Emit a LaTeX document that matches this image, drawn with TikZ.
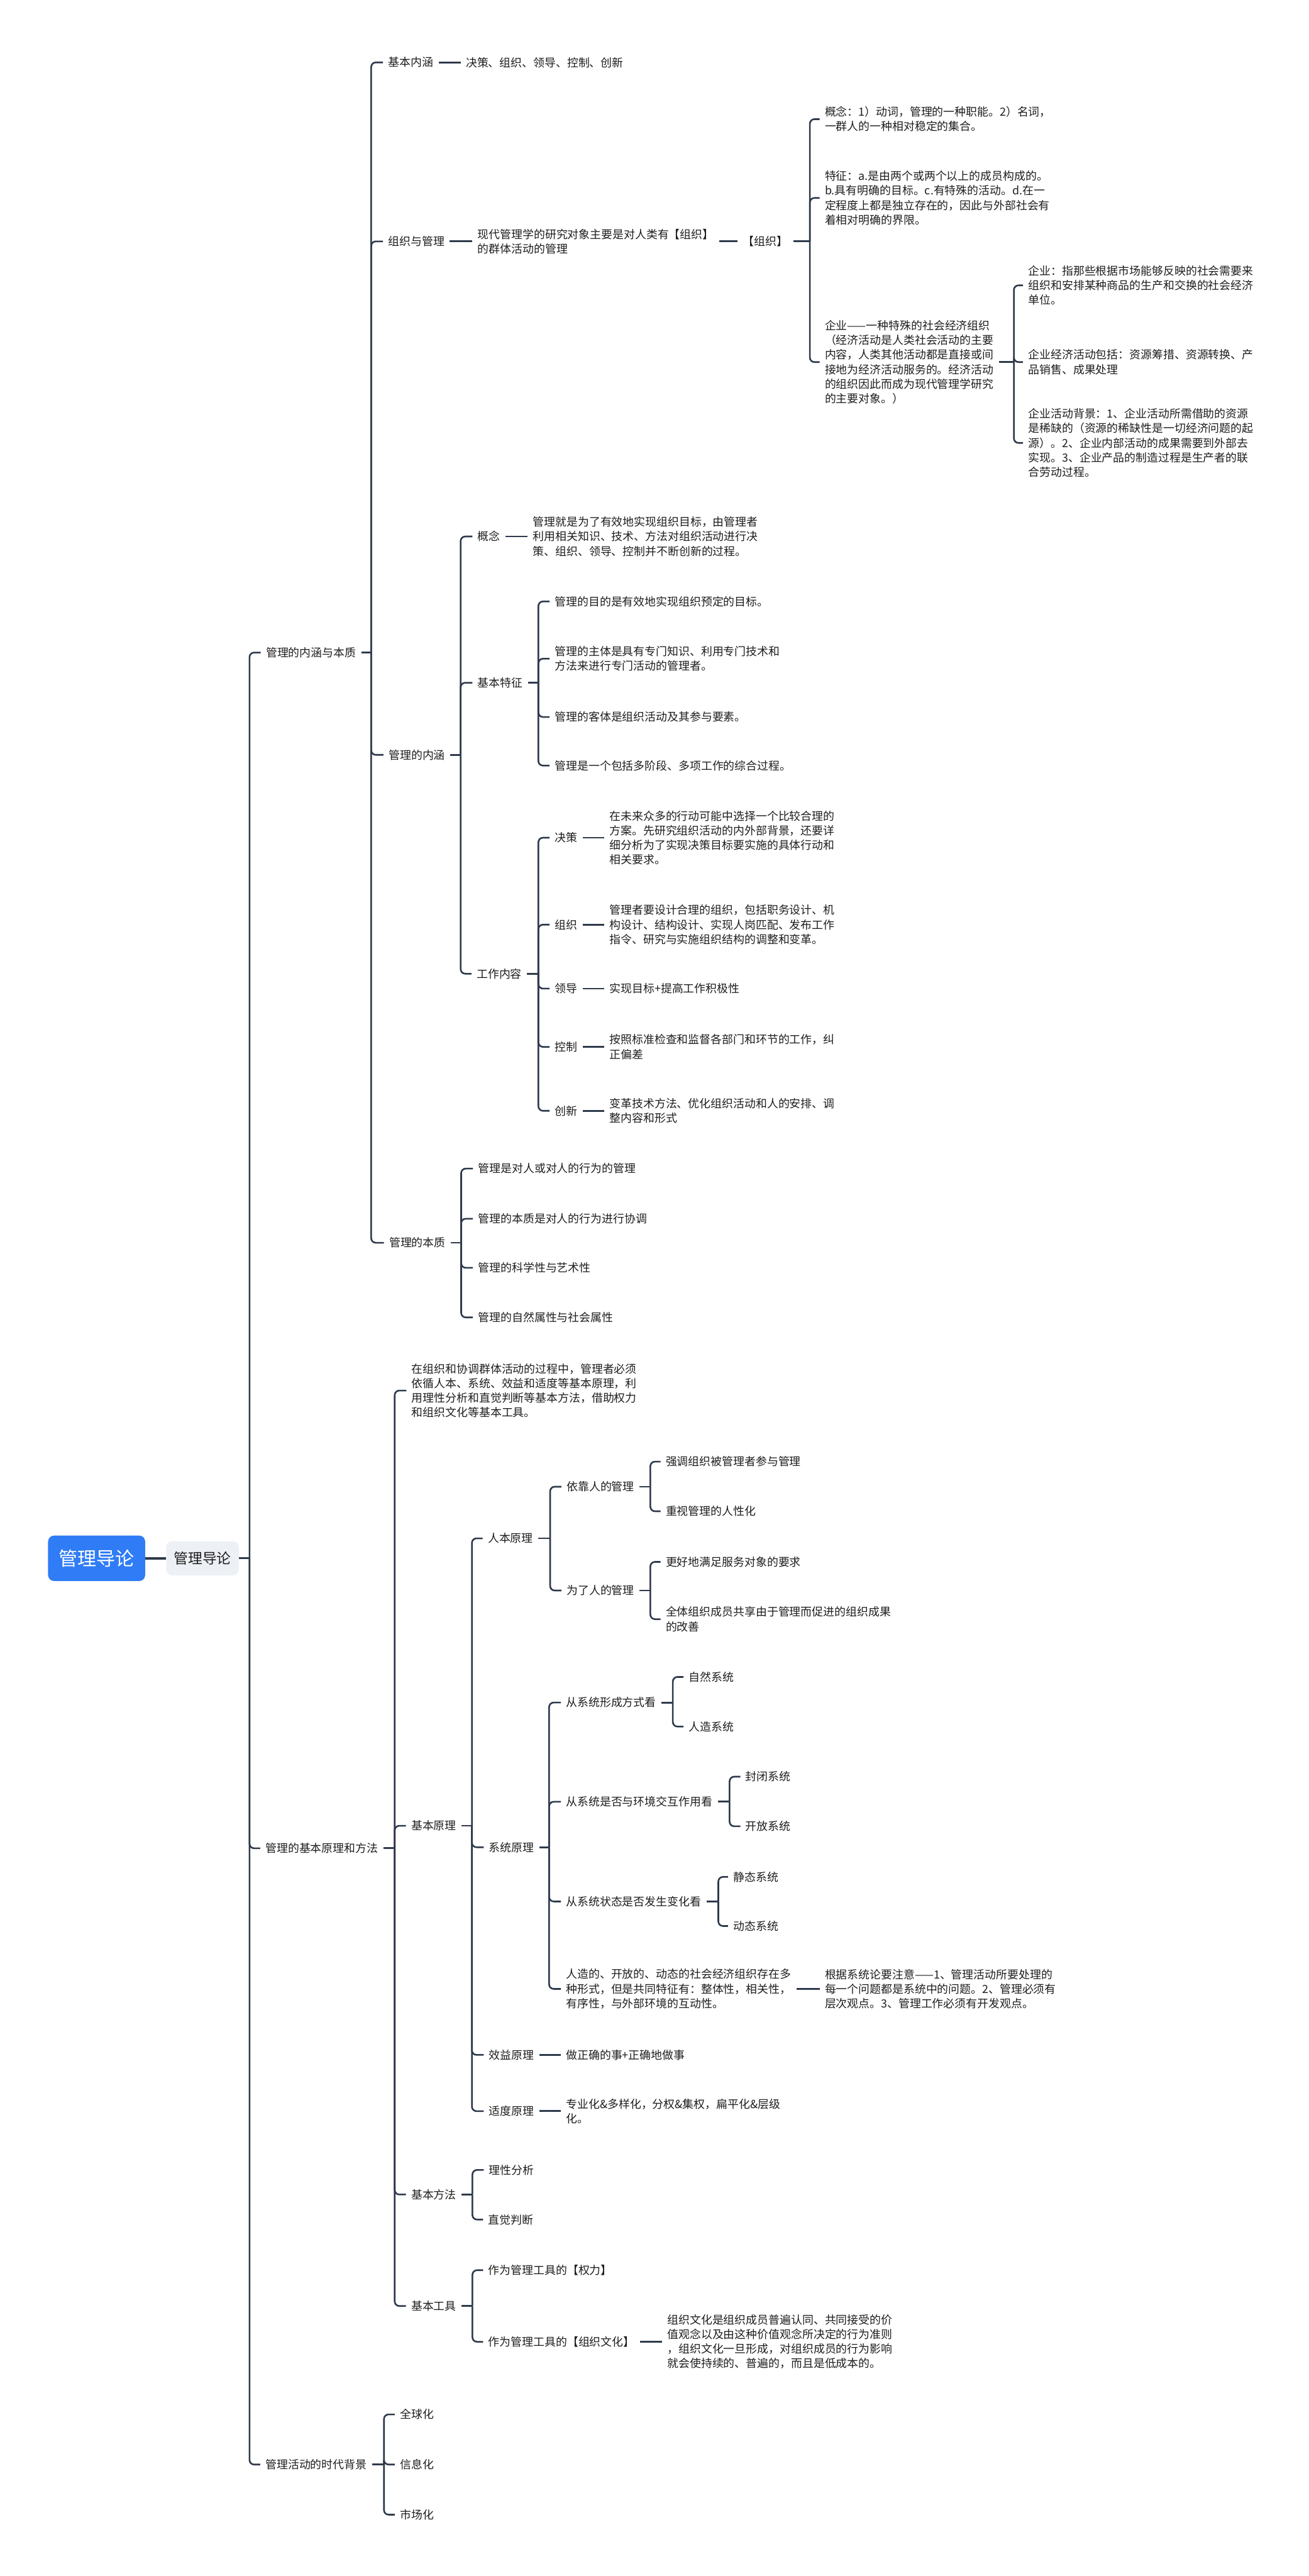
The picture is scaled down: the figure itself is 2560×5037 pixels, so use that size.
\documentclass[tikz,border=0pt]{standalone}
\usepackage{fontspec}
\setmainfont{Noto Sans CJK SC}
\definecolor{linec}{HTML}{2E3A4B}
\definecolor{txtc}{HTML}{1E1E1E}
\definecolor{rootc}{HTML}{2F7CF6}
\definecolor{secc}{HTML}{EDF0F5}
\newcommand\nf{\fontsize{11pt}{14.25pt}\selectfont}
\tikzset{
  tx/.style={anchor=west, align=left, inner xsep=5pt, inner ysep=2pt, font=\nf, text=txtc},
  br/.style={draw=linec, line width=1.6pt, rounded corners=4.5pt},
  stub/.style={draw=linec, line width=1.7pt},
  rootbox/.style={fill=rootc, text=white, rounded corners=6pt, minimum width=95pt, minimum height=44.5pt, inner sep=0pt, font=\fontsize{18.5pt}{20pt}\selectfont},
  secbox/.style={fill=secc, text=txtc, rounded corners=6pt, minimum width=71pt, minimum height=33.5pt, inner sep=0pt, font=\fontsize{14pt}{16pt}\selectfont}
}
\begin{document}
\begin{tikzpicture}[x=0.5pt,y=-0.5pt]
\fill[white] (0,0) rectangle (2560,5037);
\useasboundingbox (0,0) rectangle (2560,5037);

% root
\node[rootbox] (root) at (189,3047) {管理导论};
\node[secbox] (m) at (396,3047) {管理导论};
\draw[linec, line width=2.5pt] (root.east) -- (m.west);

% level 1
\coordinate (t0) at (488,3047);
\node[tx] (A) at (510,1276) {管理的内涵与本质};
\node[tx] (B) at (509,3614) {管理的基本原理和方法};
\node[tx] (C) at (509,4819) {管理活动的时代背景};
\draw[stub] (m.east) -- (t0);
\foreach \c in {A,B,C} \draw[br] (t0) |- (\c.west);

% ===== A =====
\coordinate (tA) at (726,1276);
\draw[stub] (A.east) -- (tA);
\node[tx] (A1) at (749,122) {基本内涵};
\node[tx] (A1a) at (901,122) {决策、组织、领导、控制、创新};
\draw[stub] (A1.east) -- (A1a.west);

\node[tx] (A2) at (749,472) {组织与管理};
\node[tx] (A2a) at (924,472) {现代管理学的研究对象主要是对人类有【组织】\\的群体活动的管理};
\node[tx] (A2b) at (1443,472) {【组织】};
\draw[stub] (A2.east) -- (A2a.west);
\draw[stub] (A2a.east) -- (A2b.west);
\coordinate (tA2) at (1584,472);
\draw[stub] (A2b.east) -- (tA2);
\node[tx] (O1) at (1603,233) {概念：1）动词，管理的一种职能。2）名词，\\一群人的一种相对稳定的集合。};
\node[tx] (O2) at (1603,387) {特征：a.是由两个或两个以上的成员构成的。\\b.具有明确的目标。c.有特殊的活动。d.在一\\定程度上都是独立存在的，因此与外部社会有\\着相对明确的界限。};
\node[tx] (O3) at (1603,708) {企业——一种特殊的社会经济组织\\（经济活动是人类社会活动的主要\\内容，人类其他活动都是直接或间\\接地为经济活动服务的。经济活动\\的组织因此而成为现代管理学研究\\的主要对象。）};
\foreach \c in {O1,O2,O3} \draw[br] (tA2) |- (\c.west);
\coordinate (tO3) at (1983,708);
\draw[stub] (O3.east) -- (tO3);
\node[tx] (E1) at (2001,558) {企业：指那些根据市场能够反映的社会需要来\\组织和安排某种商品的生产和交换的社会经济\\单位。};
\node[tx] (E2) at (2001,708) {企业经济活动包括：资源筹措、资源转换、产\\品销售、成果处理};
\node[tx] (E3) at (2001,866) {企业活动背景：1、企业活动所需借助的资源\\是稀缺的（资源的稀缺性是一切经济问题的起\\源）。2、企业内部活动的成果需要到外部去\\实现。3、企业产品的制造过程是生产者的联\\合劳动过程。};
\foreach \c in {E1,E2,E3} \draw[br] (tO3) |- (\c.west);

\node[tx] (A3) at (750,1476) {管理的内涵};
\coordinate (tA3) at (901,1476);
\draw[stub] (A3.east) -- (tA3);
\node[tx] (K1) at (924,1049) {概念};
\node[tx] (K1a) at (1032,1049) {管理就是为了有效地实现组织目标，由管理者\\利用相关知识、技术、方法对组织活动进行决\\策、组织、领导、控制并不断创新的过程。};
\draw[stub] (K1.east) -- (K1a.west);
\node[tx] (K2) at (924,1335) {基本特征};
\node[tx] (K3) at (922,1904) {工作内容};
\foreach \c in {K1,K2,K3} \draw[br] (tA3) |- (\c.west);
\coordinate (tK2) at (1053,1335);
\draw[stub] (K2.east) -- (tK2);
\node[tx] (K2a) at (1075,1176) {管理的目的是有效地实现组织预定的目标。};
\node[tx] (K2b) at (1075,1288) {管理的主体是具有专门知识、利用专门技术和\\方法来进行专门活动的管理者。};
\node[tx] (K2c) at (1075,1402) {管理的客体是组织活动及其参与要素。};
\node[tx] (K2d) at (1075,1497) {管理是一个包括多阶段、多项工作的综合过程。};
\foreach \c in {K2a,K2b,K2c,K2d} \draw[br] (tK2) |- (\c.west);
\coordinate (tK3) at (1053,1904);
\draw[stub] (K3.east) -- (tK3);
\node[tx] (W1) at (1075,1638) {决策};
\node[tx] (W1a) at (1182,1638) {在未来众多的行动可能中选择一个比较合理的\\方案。先研究组织活动的内外部背景，还要详\\细分析为了实现决策目标要实施的具体行动和\\相关要求。};
\node[tx] (W2) at (1075,1808) {组织};
\node[tx] (W2a) at (1182,1808) {管理者要设计合理的组织，包括职务设计、机\\构设计、结构设计、实现人岗匹配、发布工作\\指令、研究与实施组织结构的调整和变革。};
\node[tx] (W3) at (1075,1933) {领导};
\node[tx] (W3a) at (1182,1933) {实现目标+提高工作积极性};
\node[tx] (W4) at (1075,2047) {控制};
\node[tx] (W4a) at (1182,2047) {按照标准检查和监督各部门和环节的工作，纠\\正偏差};
\node[tx] (W5) at (1075,2172) {创新};
\node[tx] (W5a) at (1182,2172) {变革技术方法、优化组织活动和人的安排、调\\整内容和形式};
\foreach \c in {W1,W2,W3,W4,W5} {
  \draw[br] (tK3) |- (\c.west);
  \draw[stub] (\c.east) -- (\c a.west);
}

\node[tx] (A4) at (751,2430) {管理的本质};
\coordinate (tA4) at (902,2430);
\draw[stub] (A4.east) -- (tA4);
\node[tx] (N1) at (925,2285) {管理是对人或对人的行为的管理};
\node[tx] (N2) at (925,2383) {管理的本质是对人的行为进行协调};
\node[tx] (N3) at (925,2479) {管理的科学性与艺术性};
\node[tx] (N4) at (925,2576) {管理的自然属性与社会属性};
\foreach \c in {N1,N2,N3,N4} \draw[br] (tA4) |- (\c.west);
\foreach \c in {A1,A2,A3,A4} \draw[br] (tA) |- (\c.west);

% ===== B =====
\coordinate (tB) at (772,3614);
\draw[stub] (B.east) -- (tB);
\node[tx] (B1) at (795,2719) {在组织和协调群体活动的过程中，管理者必须\\依循人本、系统、效益和适度等基本原理，利\\用理性分析和直觉判断等基本方法，借助权力\\和组织文化等基本工具。};
\node[tx] (B2) at (794,3570) {基本原理};
\node[tx] (B3) at (794,4291) {基本方法};
\node[tx] (B4) at (794,4509) {基本工具};
\foreach \c in {B1,B2,B3,B4} \draw[br] (tB) |- (\c.west);

\coordinate (tB2) at (923,3570);
\draw[stub] (B2.east) -- (tB2);
\node[tx] (P1) at (944,3008) {人本原理};
\node[tx] (P2) at (946,3612) {系统原理};
\node[tx] (P3) at (946,4018) {效益原理};
\node[tx] (P4) at (946,4128) {适度原理};
\foreach \c in {P1,P2,P3,P4} \draw[br] (tB2) |- (\c.west);

\coordinate (tP1) at (1076,3008);
\draw[stub] (P1.east) -- (tP1);
\node[tx] (P11) at (1098,2907) {依靠人的管理};
\node[tx] (P12) at (1098,3110) {为了人的管理};
\foreach \c in {P11,P12} \draw[br] (tP1) |- (\c.west);
\coordinate (tP11) at (1272,2907);
\draw[stub] (P11.east) -- (tP11);
\node[tx] (P111) at (1292,2858) {强调组织被管理者参与管理};
\node[tx] (P112) at (1292,2955) {重视管理的人性化};
\foreach \c in {P111,P112} \draw[br] (tP11) |- (\c.west);
\coordinate (tP12) at (1272,3110);
\draw[stub] (P12.east) -- (tP12);
\node[tx] (P121) at (1292,3054) {更好地满足服务对象的要求};
\node[tx] (P122) at (1292,3166) {全体组织成员共享由于管理而促进的组织成果\\的改善};
\foreach \c in {P121,P122} \draw[br] (tP12) |- (\c.west);

\coordinate (tP2) at (1074,3612);
\draw[stub] (P2.east) -- (tP2);
\node[tx] (S1) at (1097,3329) {从系统形成方式看};
\node[tx] (S2) at (1097,3523) {从系统是否与环境交互作用看};
\node[tx] (S3) at (1097,3718) {从系统状态是否发生变化看};
\node[tx] (S4) at (1097,3889) {人造的、开放的、动态的社会经济组织存在多\\种形式，但是共同特征有：整体性，相关性，\\有序性，与外部环境的互动性。};
\foreach \c in {S1,S2,S3,S4} \draw[br] (tP2) |- (\c.west);
\coordinate (tS1) at (1316,3329);
\draw[stub] (S1.east) -- (tS1);
\node[tx] (S11) at (1337,3279) {自然系统};
\node[tx] (S12) at (1337,3376) {人造系统};
\foreach \c in {S11,S12} \draw[br] (tS1) |- (\c.west);
\coordinate (tS2) at (1427,3523);
\draw[stub] (S2.east) -- (tS2);
\node[tx] (S21) at (1448,3474) {封闭系统};
\node[tx] (S22) at (1448,3571) {开放系统};
\foreach \c in {S21,S22} \draw[br] (tS2) |- (\c.west);
\coordinate (tS3) at (1405,3718);
\draw[stub] (S3.east) -- (tS3);
\node[tx] (S31) at (1424,3670) {静态系统};
\node[tx] (S32) at (1424,3766) {动态系统};
\foreach \c in {S31,S32} \draw[br] (tS3) |- (\c.west);
\node[tx] (S4a) at (1603,3889) {根据系统论要注意——1、管理活动所要处理的\\每一个问题都是系统中的问题。2、管理必须有\\层次观点。3、管理工作必须有开发观点。};
\draw[stub] (S4.east) -- (S4a.west);

\node[tx] (P3a) at (1097,4018) {做正确的事+正确地做事};
\draw[stub] (P3.east) -- (P3a.west);
\node[tx] (P4a) at (1097,4128) {专业化\&多样化，分权\&集权，扁平化\&层级\\化。};
\draw[stub] (P4.east) -- (P4a.west);

\coordinate (tB3) at (924,4291);
\draw[stub] (B3.east) -- (tB3);
\node[tx] (M1) at (946,4243) {理性分析};
\node[tx] (M2) at (945,4340) {直觉判断};
\foreach \c in {M1,M2} \draw[br] (tB3) |- (\c.west);

\coordinate (tB4) at (924,4509);
\draw[stub] (B4.east) -- (tB4);
\node[tx] (T1) at (945,4439) {作为管理工具的【权力】};
\node[tx] (T2) at (945,4579) {作为管理工具的【组织文化】};
\foreach \c in {T1,T2} \draw[br] (tB4) |- (\c.west);
\node[tx] (T2a) at (1295,4579) {组织文化是组织成员普遍认同、共同接受的价\\值观念以及由这种价值观念所决定的行为准则\\，组织文化一旦形成，对组织成员的行为影响\\就会使持续的、普遍的，而且是低成本的。};
\draw[stub] (T2.east) -- (T2a.west);

% ===== C =====
\coordinate (tC) at (751,4819);
\draw[stub] (C.east) -- (tC);
\node[tx] (C1) at (772,4721) {全球化};
\node[tx] (C2) at (772,4819) {信息化};
\node[tx] (C3) at (772,4917) {市场化};
\foreach \c in {C1,C2,C3} \draw[br] (tC) |- (\c.west);
\end{tikzpicture}
\end{document}
